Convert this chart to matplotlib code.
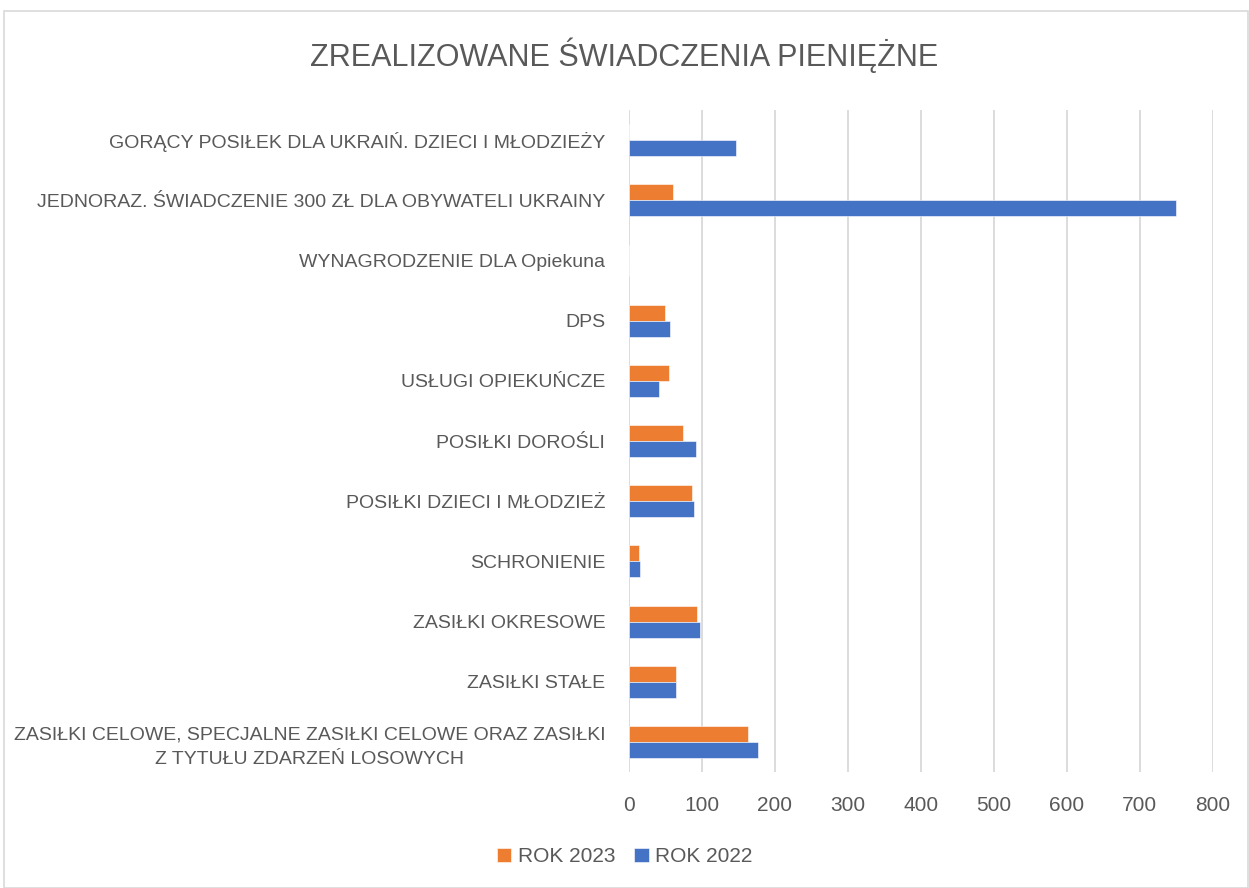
import numpy as np
import matplotlib
matplotlib.use("Agg")
import matplotlib.pyplot as plt
from matplotlib.patches import Rectangle

plt.rcParams['font.family'] = ['Liberation Sans', 'DejaVu Sans']

# categories, bottom to top
categories = [
    "ZASIŁKI CELOWE, SPECJALNE ZASIŁKI CELOWE ORAZ ZASIŁKI\nZ TYTUŁU ZDARZEŃ LOSOWYCH",
    "ZASIŁKI STAŁE",
    "ZASIŁKI OKRESOWE",
    "SCHRONIENIE",
    "POSIŁKI DZIECI I MŁODZIEŻ",
    "POSIŁKI DOROŚLI",
    "USŁUGI OPIEKUŃCZE",
    "DPS",
    "WYNAGRODZENIE DLA Opiekuna",
    "JEDNORAZ. ŚWIADCZENIE 300 ZŁ DLA OBYWATELI UKRAINY",
    "GORĄCY POSIŁEK DLA UKRAIŃ. DZIECI I MŁODZIEŻY",
]
rok_2023 = [163, 65, 93, 14, 86, 74, 55, 50, 0, 61, 1]
rok_2022 = [177, 65, 97, 15, 90, 92, 41, 56, 0, 749, 147]
x_ticks = [0, 100, 200, 300, 400, 500, 600, 700, 800]

text_col = "#595959"
grid_col = "#D9D9D9"
orange = "#ED7D31"
blue = "#4472C4"

fig = plt.figure(figsize=(12.49, 8.88), dpi=100)
fig.patches.append(Rectangle((0.003, 0.0), 0.996, 0.988, transform=fig.transFigure,
                             fill=False, edgecolor=grid_col, linewidth=1.2))
ax = fig.add_axes([0.5034, 0.1306, 0.4676, 0.7454])

y = np.arange(len(categories))
h = 0.265
ax.barh(y + h / 2, rok_2023, height=h, color=orange, edgecolor="white", linewidth=0.4,
        label="ROK 2023", zorder=3)
ax.barh(y - h / 2, rok_2022, height=h, color=blue, edgecolor="white", linewidth=0.4,
        label="ROK 2022", zorder=3)

ax.set_ylim(-0.5, len(categories) - 0.5)
ax.set_xlim(0, 800)
ax.set_xticks(x_ticks)
ax.set_yticks(y)
ax.set_yticklabels(categories, multialignment="center", linespacing=1.55)
ax.tick_params(axis="both", length=0, labelsize=14, labelcolor=text_col)
ax.tick_params(axis="y", pad=17)
ax.tick_params(axis="x", labelsize=15, pad=17)
ax.xaxis.grid(True, color=grid_col, linewidth=1.3, zorder=0)
for s in ax.spines.values():
    s.set_visible(False)

fig.text(0.5, 0.938, "ZREALIZOWANE ŚWIADCZENIA PIENIĘŻNE", ha="center", va="center",
         fontsize=22, color=text_col)

fig.legend(loc="center", bbox_to_anchor=(0.5, 0.035), ncol=2, frameon=False,
           fontsize=15, labelcolor=text_col, handlelength=0.7, handleheight=0.7,
           handletextpad=0.3, columnspacing=0.9)

fig.savefig("out.png", dpi=100)
